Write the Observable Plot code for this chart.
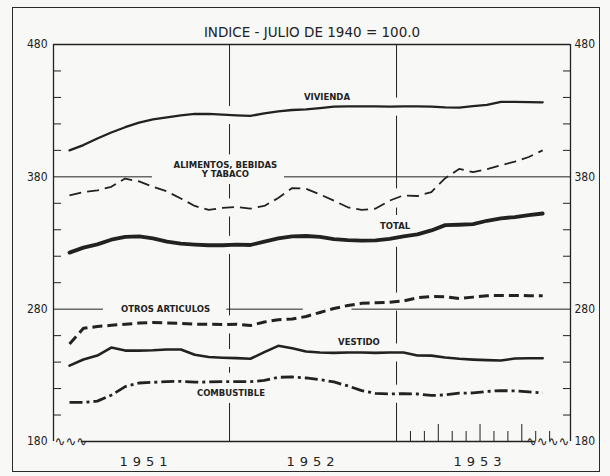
<!DOCTYPE html>
<html><head><meta charset="utf-8">
<script src="https://cdn.jsdelivr.net/npm/d3@7"></script>
<script src="https://cdn.jsdelivr.net/npm/@observablehq/plot@0.6"></script>
<style>
html,body{margin:0;padding:0;background:#f8f8f6;}
#wrap{position:relative;width:610px;height:476px;overflow:hidden;}
#wrap svg{display:block;}
#border{position:absolute;left:12px;top:7px;width:588px;height:465px;border:1.5px solid #2a2a2a;box-sizing:border-box;pointer-events:none;}
</style></head><body><div id="wrap"><div id="border"></div></div>
<script>
// ---- data (monthly index, Jan 1951 = 0 ... Nov 1953 = 34) ----
const title = "INDICE - JULIO DE 1940 = 100.0";
const years = ["1951", "1952", "1953"];
const yearCenters = [5.5, 17.5, 29.5];
const yearBoundaries = [11.5, 23.5];
const yMajor = [180, 280, 380, 480];
const yMinor = [200, 220, 240, 260, 300, 320, 340, 360, 400, 420, 440, 460];
const monthTicks1953 = [24.5, 25.5, 27.5, 28.5, 30.5, 31.5, 33.5, 34.5];
const quarterTicks1953 = [26.5, 29.5, 32.5];

const vivienda = [400,404,409,413.5,417.5,421,423.5,425,426.5,427.5,427.5,427,426.5,426,428,429.5,430.5,431,432,433,433.3,433.3,433.2,433,433.2,433.3,433,432.5,432.3,433.5,434.3,436.7,436.7,436.5,436.3];
const alimentos = [366,368.5,369.7,372.5,378.7,376.5,372.5,369,363.6,358,355,356.5,357.3,356,358,364,371.5,371,366.7,362,357,355,356,362,366,365.5,368.5,379,386,383.5,385.8,388.8,391.5,395,400];
const total = [322.7,326.5,329,332.5,334.7,335,333.5,331,329.5,328.8,328.3,328.3,328.8,328.5,331,333.5,335,335.3,334.6,333,332.2,331.8,332,333.2,335,336.5,339.5,343.5,343.8,344.3,346.8,348.6,349.6,351,352.3];
const otros = [253.7,265.5,266.9,267.8,268.6,269.5,269.9,269.6,269.2,268.6,268.6,268.4,268.6,267.6,270.3,272,272.5,274.5,277.5,280.5,282.8,284.4,284.8,285.3,286.2,288.6,289.6,289.4,288,289.1,290.2,290.4,290.4,290.2,290.1];
const vestido = [237.3,242,244.9,251,248.7,248.7,248.9,249.5,249.5,245.5,243.8,243.3,243,242.5,247.5,252.3,250.5,248,247.2,247,247.3,247.2,247,247.3,247.3,245,244.9,243.5,242.5,241.9,241.5,241.2,242.7,242.9,242.9];
const combustible = [209.5,209.5,210.5,215,221.5,224.2,224.7,225.3,225.5,224.8,225,225.2,225.2,225.2,226.2,228.5,228.8,228,226.8,225,222,218.5,216.3,215.9,216.2,215.9,214.8,215.2,216.5,216.7,217.8,218.5,218.2,217.5,216.7];

const labelText = ["VIVIENDA", "ALIMENTOS, BEBIDAS\nY TABACO", "TOTAL", "OTROS ARTICULOS", "VESTIDO", "COMBUSTIBLE"];
const labelX = [18.5, 11.2, 23.4, 6.9, 20.8, 11.6];
const labelY = [440.5, 385.5, 342.5, 280, 255.3, 216.3];

const gridSegments = [
  {y: 380, x1: -1.15, x2: 5.96}, {y: 380, x1: 15.45, x2: 36.0},
  {y: 280, x1: -1.15, x2: 2.44}, {y: 280, x1: 11.3, x2: 16.8}, {y: 280, x1: 20.3, x2: 36.0}
];

// ---- build ----
const ink = "#222";
const bg = "#f8f8f6";
const F = "DejaVu Sans";
const xDomain = [-1.15, 36.0];
const asRows = vals => vals.map((v, i) => ({i, v}));

const seriesDefs = [
  {values: vivienda, strokeWidth: 2.3, dash: null},
  {values: alimentos, strokeWidth: 1.8, dash: "12,6"},
  {values: total, strokeWidth: 3.8, dash: null},
  {values: otros, strokeWidth: 3.0, dash: "10,5"},
  {values: vestido, strokeWidth: 2.6, dash: null},
  {values: combustible, strokeWidth: 2.8, dash: "13,4,3,4"}
];

const labels = labelText.map((t, k) => ({t, x: labelX[k], y: labelY[k]}));

const marks = [
  // vertical year-boundary gridlines
  Plot.ruleX(yearBoundaries, {y1: 180, y2: 480, stroke: ink, strokeWidth: 1}),
  // halos around series lines (break the vertical gridlines)
  ...seriesDefs.map(s => Plot.line(asRows(s.values), {x: "i", y: "v", stroke: bg, strokeWidth: 18})),
  // halos of labels
  Plot.text(labels, {x: "x", y: "y", text: "t", fontSize: 8.5, fontWeight: "bold", fontFamily: F, stroke: bg, strokeWidth: 14, fill: bg, lineHeight: 1.1}),
  // horizontal gridlines with gaps
  Plot.ruleY(gridSegments, {y: "y", x1: "x1", x2: "x2", stroke: ink, strokeWidth: 1}),
  // frame
  Plot.ruleY([480], {x1: xDomain[0], x2: xDomain[1], stroke: ink, strokeWidth: 1.3}),
  Plot.ruleY([180], {x1: 0.85, x2: 33.5, stroke: ink, strokeWidth: 1.3}),
  Plot.ruleX(xDomain, {y1: 180, y2: 480, stroke: ink, strokeWidth: 1.3}),
  // axes
  Plot.axisY({anchor: "left", ticks: yMajor, tickSize: 0, tickPadding: 6, fontSize: 12, fontFamily: "DejaVu Sans Condensed", fill: ink}),
  Plot.axisY({anchor: "right", ticks: yMajor, tickSize: 0, tickPadding: 4, fontSize: 12, fontFamily: "DejaVu Sans Condensed", fill: ink}),
  Plot.axisY({anchor: "left", ticks: yMinor, tickSize: -8, tickFormat: () => "", stroke: ink}),
  Plot.axisY({anchor: "right", ticks: yMinor, tickSize: -8, tickFormat: () => "", stroke: ink}),
  Plot.axisX({anchor: "bottom", ticks: monthTicks1953, tickSize: -10, tickFormat: () => "", stroke: ink}),
  Plot.axisX({anchor: "bottom", ticks: quarterTicks1953, tickSize: -17, tickFormat: () => "", stroke: ink}),
  Plot.axisX({anchor: "bottom", ticks: yearCenters, tickSize: 0, tickPadding: 15, tickFormat: (d) => years[yearCenters.indexOf(d)], fontSize: 13, fontFamily: F, fill: ink}),
  // wavy breaks at the baseline
  Plot.text(["∿∿∿"], {x: xDomain[0], y: 180, textAnchor: "start", fontSize: 13, fill: ink, dx: 1}),
  Plot.text(["∿∿∿∿"], {x: xDomain[1], y: 180, textAnchor: "end", fontSize: 13, fill: ink, dx: -1}),
  // series
  ...seriesDefs.map(s => Plot.line(asRows(s.values), {x: "i", y: "v", stroke: ink, strokeWidth: s.strokeWidth, strokeDasharray: s.dash, strokeLinejoin: "round", strokeLinecap: s.dash ? "butt" : "round"})),
  // series labels
  Plot.text(labels, {x: "x", y: "y", text: "t", fontSize: 8.5, fontWeight: "bold", fontFamily: F, fill: ink, lineHeight: 1.1}),
  // title
  Plot.text([title], {frameAnchor: "top", dy: -17, fontSize: 13.5, fontFamily: F, fill: ink})
];

const chart = Plot.plot({
  width: 610, height: 476,
  marginLeft: 53, marginRight: 40, marginTop: 44, marginBottom: 35,
  x: {domain: xDomain, axis: null},
  y: {domain: [180, 480], axis: null},
  style: {background: "transparent", fontFamily: F, color: ink, overflow: "visible"},
  marks
});
d3.select(chart).selectAll('g[aria-label="x-axis tick label"] text').style("letter-spacing", "5px");
document.getElementById("wrap").prepend(chart);
</script></body></html>
